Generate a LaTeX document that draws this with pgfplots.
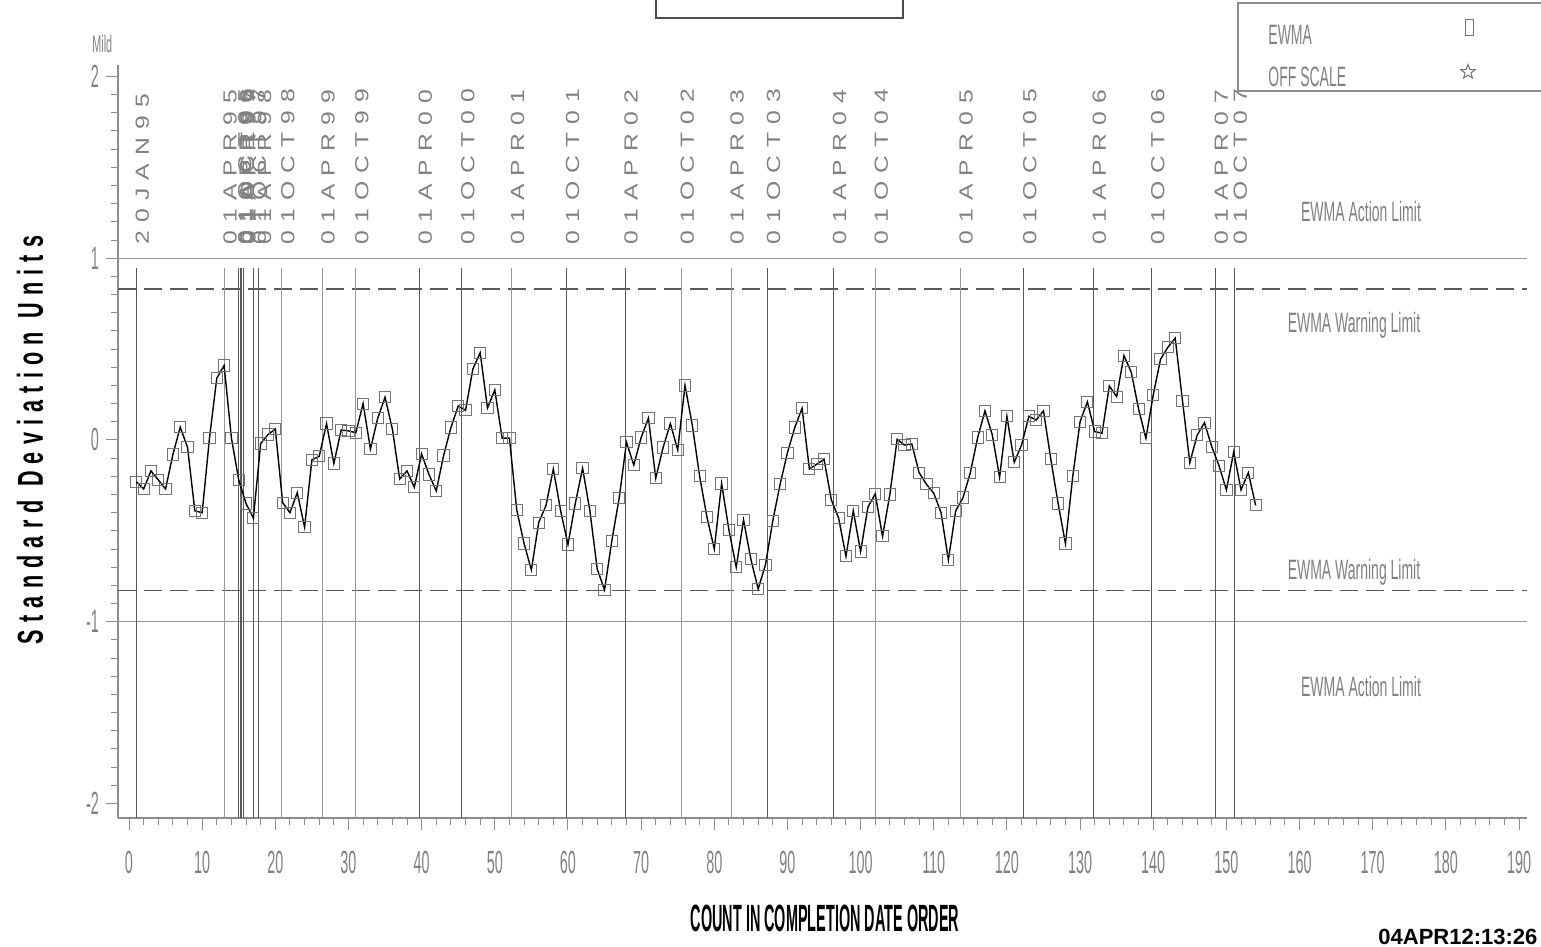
\documentclass[border=0pt]{standalone}
\usepackage{fontspec}
\setmainfont{Liberation Sans}
\usepackage{pgfplots}
\pgfplotsset{compat=1.18}
\usetikzlibrary{shapes.geometric}
\newfontfamily\condfont[FakeStretch=0.45]{Liberation Sans}
\newfontfamily\labfont[FakeStretch=0.5]{Liberation Sans}
\newfontfamily\datefont[FakeStretch=1.3,LetterSpace=43]{Liberation Sans}
\newfontfamily\ylabfont[FakeStretch=0.6,LetterSpace=20]{Liberation Sans}
\newfontfamily\xlabfont[FakeStretch=0.38]{Liberation Sans}
\definecolor{txtgray}{gray}{0.5}
\definecolor{darkln}{gray}{0.35}
\definecolor{lightln}{gray}{0.6}

\pgfplotstableread{
x y
1 -0.23
2 -0.27
3 -0.17
4 -0.22
5 -0.27
6 -0.08
7 0.07
8 -0.04
9 -0.39
10 -0.40
11 0.01
12 0.34
13 0.41
14 0.01
15 -0.22
16 -0.35
17 -0.43
18 -0.02
19 0.03
20 0.06
21 -0.345
22 -0.40
23 -0.29
24 -0.48
25 -0.11
26 -0.09
27 0.09
28 -0.13
29 0.055
30 0.05
31 0.04
32 0.20
33 -0.05
34 0.12
35 0.235
36 0.06
37 -0.215
38 -0.17
39 -0.26
40 -0.077
41 -0.19
42 -0.28
43 -0.086
44 0.068
45 0.187
46 0.163
47 0.39
48 0.48
49 0.176
50 0.275
51 0.01
52 0.01
53 -0.385
54 -0.57
55 -0.715
56 -0.455
57 -0.36
58 -0.16
59 -0.39
60 -0.575
61 -0.35
62 -0.156
63 -0.39
64 -0.71
65 -0.825
66 -0.554
67 -0.32
68 -0.013
69 -0.138
70 0.013
71 0.12
72 -0.21
73 -0.042
74 0.09
75 -0.055
76 0.30
77 0.08
78 -0.20
79 -0.425
80 -0.60
81 -0.24
82 -0.495
83 -0.70
84 -0.44
85 -0.656
86 -0.82
87 -0.686
88 -0.444
89 -0.244
90 -0.07
91 0.068
92 0.174
93 -0.16
94 -0.134
95 -0.106
96 -0.33
97 -0.43
98 -0.64
99 -0.39
100 -0.614
101 -0.37
102 -0.297
103 -0.53
104 -0.30
105 0.004
106 -0.028
107 -0.022
108 -0.18
109 -0.244
110 -0.293
111 -0.40
112 -0.66
113 -0.39
114 -0.317
115 -0.18
116 0.013
117 0.16
118 0.028
119 -0.205
120 0.13
121 -0.123
122 -0.028
123 0.13
124 0.11
125 0.16
126 -0.106
127 -0.35
128 -0.57
129 -0.20
130 0.10
131 0.21
132 0.046
133 0.037
134 0.297
135 0.238
136 0.464
137 0.372
138 0.17
139 0.009
140 0.248
141 0.444
142 0.51
143 0.56
144 0.216
145 -0.125
146 0.026
147 0.095
148 -0.037
149 -0.143
150 -0.275
151 -0.066
152 -0.275
153 -0.18
154 -0.36
}\ewma

\tikzset{
  datelab/.style={xshift=3pt, rotate=90, anchor=west, inner sep=0pt,
    font=\datefont\fontsize{9.5}{9.5}\selectfont, text=txtgray},
  limlab/.style={font=\labfont\fontsize{14}{14}\selectfont, text=txtgray, inner sep=0pt},
}
\newcommand{\vl}[2]{\draw[#2, line width=0.5pt] (axis cs:#1,0.946) -- (axis cs:#1,-2.08);}
\newcommand{\dl}[2]{\node[datelab] at (axis cs:#1,1.073) {#2};}

\begin{document}
\begin{tikzpicture}
\begin{axis}[
  scale only axis, width=704.5pt, height=376.5pt,
  at={(0,0)}, anchor=south west,
  xmin=-1.504, xmax=191.09, ymin=-2.080, ymax=2.063,
  axis lines=left, axis line style={-, draw=black!45, line width=0.6pt},
  tick align=outside,
  every tick/.style={draw=black!45, line width=0.5pt},
  major tick length=6pt, minor tick length=3.5pt,
  xtick={0,10,20,30,40,50,60,70,80,90,100,110,120,130,140,150,160,170,180,190},
  xticklabels={0,10,20,30,40,50,60,70,80,90,100,110,120,130,140,150,160,170,180,190},
  minor x tick num=4,
  ytick={-2,-1,0,1,2}, yticklabels={-2,-1,0,1,2},
  minor y tick num=9,
  xticklabel style={font=\condfont\fontsize{16}{16}\selectfont, text=txtgray, yshift=-7pt},
  yticklabel style={font=\condfont\fontsize{16}{16}\selectfont, text=txtgray},
  clip=false,
]
% limit lines
\draw[lightln, line width=0.6pt] (axis cs:-1.504,1) -- (axis cs:191.09,1);
\draw[lightln, line width=0.6pt] (axis cs:-1.504,-1) -- (axis cs:191.09,-1);
\draw[darkln, line width=0.6pt, dash pattern=on 9pt off 4pt] (axis cs:-1.504,0.83) -- (axis cs:191.09,0.83);
\draw[darkln, line width=0.6pt, dash pattern=on 9pt off 4pt] (axis cs:-1.504,-0.83) -- (axis cs:191.09,-0.83);
% reference lines at dates
\vl{1}{darkln}
\vl{13.0}{lightln}
\vl{15.0}{darkln}
\vl{15.2}{darkln}
\vl{15.35}{darkln}
\vl{15.6}{darkln}
\vl{17.0}{darkln}
\vl{17.7}{darkln}
\vl{20.9}{lightln}
\vl{26.4}{lightln}
\vl{31.0}{lightln}
\vl{39.7}{darkln}
\vl{45.5}{darkln}
\vl{52.3}{lightln}
\vl{59.8}{darkln}
\vl{67.8}{darkln}
\vl{75.5}{lightln}
\vl{82.3}{lightln}
\vl{87.3}{darkln}
\vl{96.3}{darkln}
\vl{102.0}{lightln}
\vl{113.6}{lightln}
\vl{122.3}{darkln}
\vl{131.8}{darkln}
\vl{139.8}{darkln}
\vl{148.5}{darkln}
\vl{151.1}{darkln}
% date labels
\dl{1}{20JAN95}
\dl{13.0}{01APR95}
\dl{15.0}{01OCT95}
\dl{15.2}{01APR96}
\dl{15.35}{01OCT96}
\dl{15.6}{01APR97}
\dl{17.0}{01OCT97}
\dl{17.7}{01APR98}
\dl{20.9}{01OCT98}
\dl{26.4}{01APR99}
\dl{31.0}{01OCT99}
\dl{39.7}{01APR00}
\dl{45.5}{01OCT00}
\dl{52.3}{01APR01}
\dl{59.8}{01OCT01}
\dl{67.8}{01APR02}
\dl{75.5}{01OCT02}
\dl{82.3}{01APR03}
\dl{87.3}{01OCT03}
\dl{96.3}{01APR04}
\dl{102.0}{01OCT04}
\dl{113.6}{01APR05}
\dl{122.3}{01OCT05}
\dl{131.8}{01APR06}
\dl{139.8}{01OCT06}
\dl{148.5}{01APR07}
\dl{151.1}{01OCT07}
% data
\addplot[only marks, mark=square, mark size=2.8pt,
  mark options={draw=black!55, line width=0.5pt, fill=none}] table[x=x,y=y] {\ewma};
\addplot[no marks, black, line width=0.7pt] table[x=x,y=y] {\ewma};
\end{axis}
% limit labels
\node[limlab] at (621.5pt,303pt) {EWMA Action Limit};
\node[limlab] at (618pt,246.5pt) {EWMA Warning Limit};
\node[limlab] at (618pt,123pt) {EWMA Warning Limit};
\node[limlab] at (621.5pt,66pt) {EWMA Action Limit};
% Mild
\node[anchor=west, inner sep=0pt, font=\condfont\fontsize{12}{12}\selectfont, text=txtgray] at (-13pt,387pt) {Mild};
% title box
\draw[black!70, line width=0.8pt] (269pt,415pt) -- (269pt,400pt) -- (392.5pt,400pt) -- (392.5pt,415pt);
% legend box
\draw[black!45, line width=0.6pt] (725pt,407.5pt) -- (560pt,407.5pt) -- (560pt,363.5pt) -- (725pt,363.5pt);
\node[limlab, anchor=west] at (575pt,391.5pt) {EWMA};
\node[limlab, anchor=west] at (575pt,370.5pt) {OFF SCALE};
\draw[black!55, line width=0.5pt] (673.5pt,391pt) rectangle (677.5pt,399pt);
\node[star, star points=5, star point ratio=2.4, draw=black!55, line width=0.5pt, inner sep=0pt, minimum size=7.5pt] at (675pt,373pt) {};
% axis labels
\node[rotate=90, inner sep=0pt, font=\ylabfont\bfseries\fontsize{18}{18}\selectfont] at (-44pt,189pt) {Standard Deviation Units};
\node[inner sep=0pt, font=\xlabfont\bfseries\fontsize{19}{19}\selectfont] at (353.5pt,-50pt) {COUNT IN COMPLETION DATE ORDER};
\node[anchor=south west, inner sep=0pt, font=\bfseries\fontsize{11}{11}\selectfont] at (630pt,-63.8pt) {04APR12:13:26};
\pgfresetboundingbox
\path[use as bounding box] (-59pt,-64.5pt) rectangle (711.5pt,409pt);
\end{tikzpicture}
\end{document}
